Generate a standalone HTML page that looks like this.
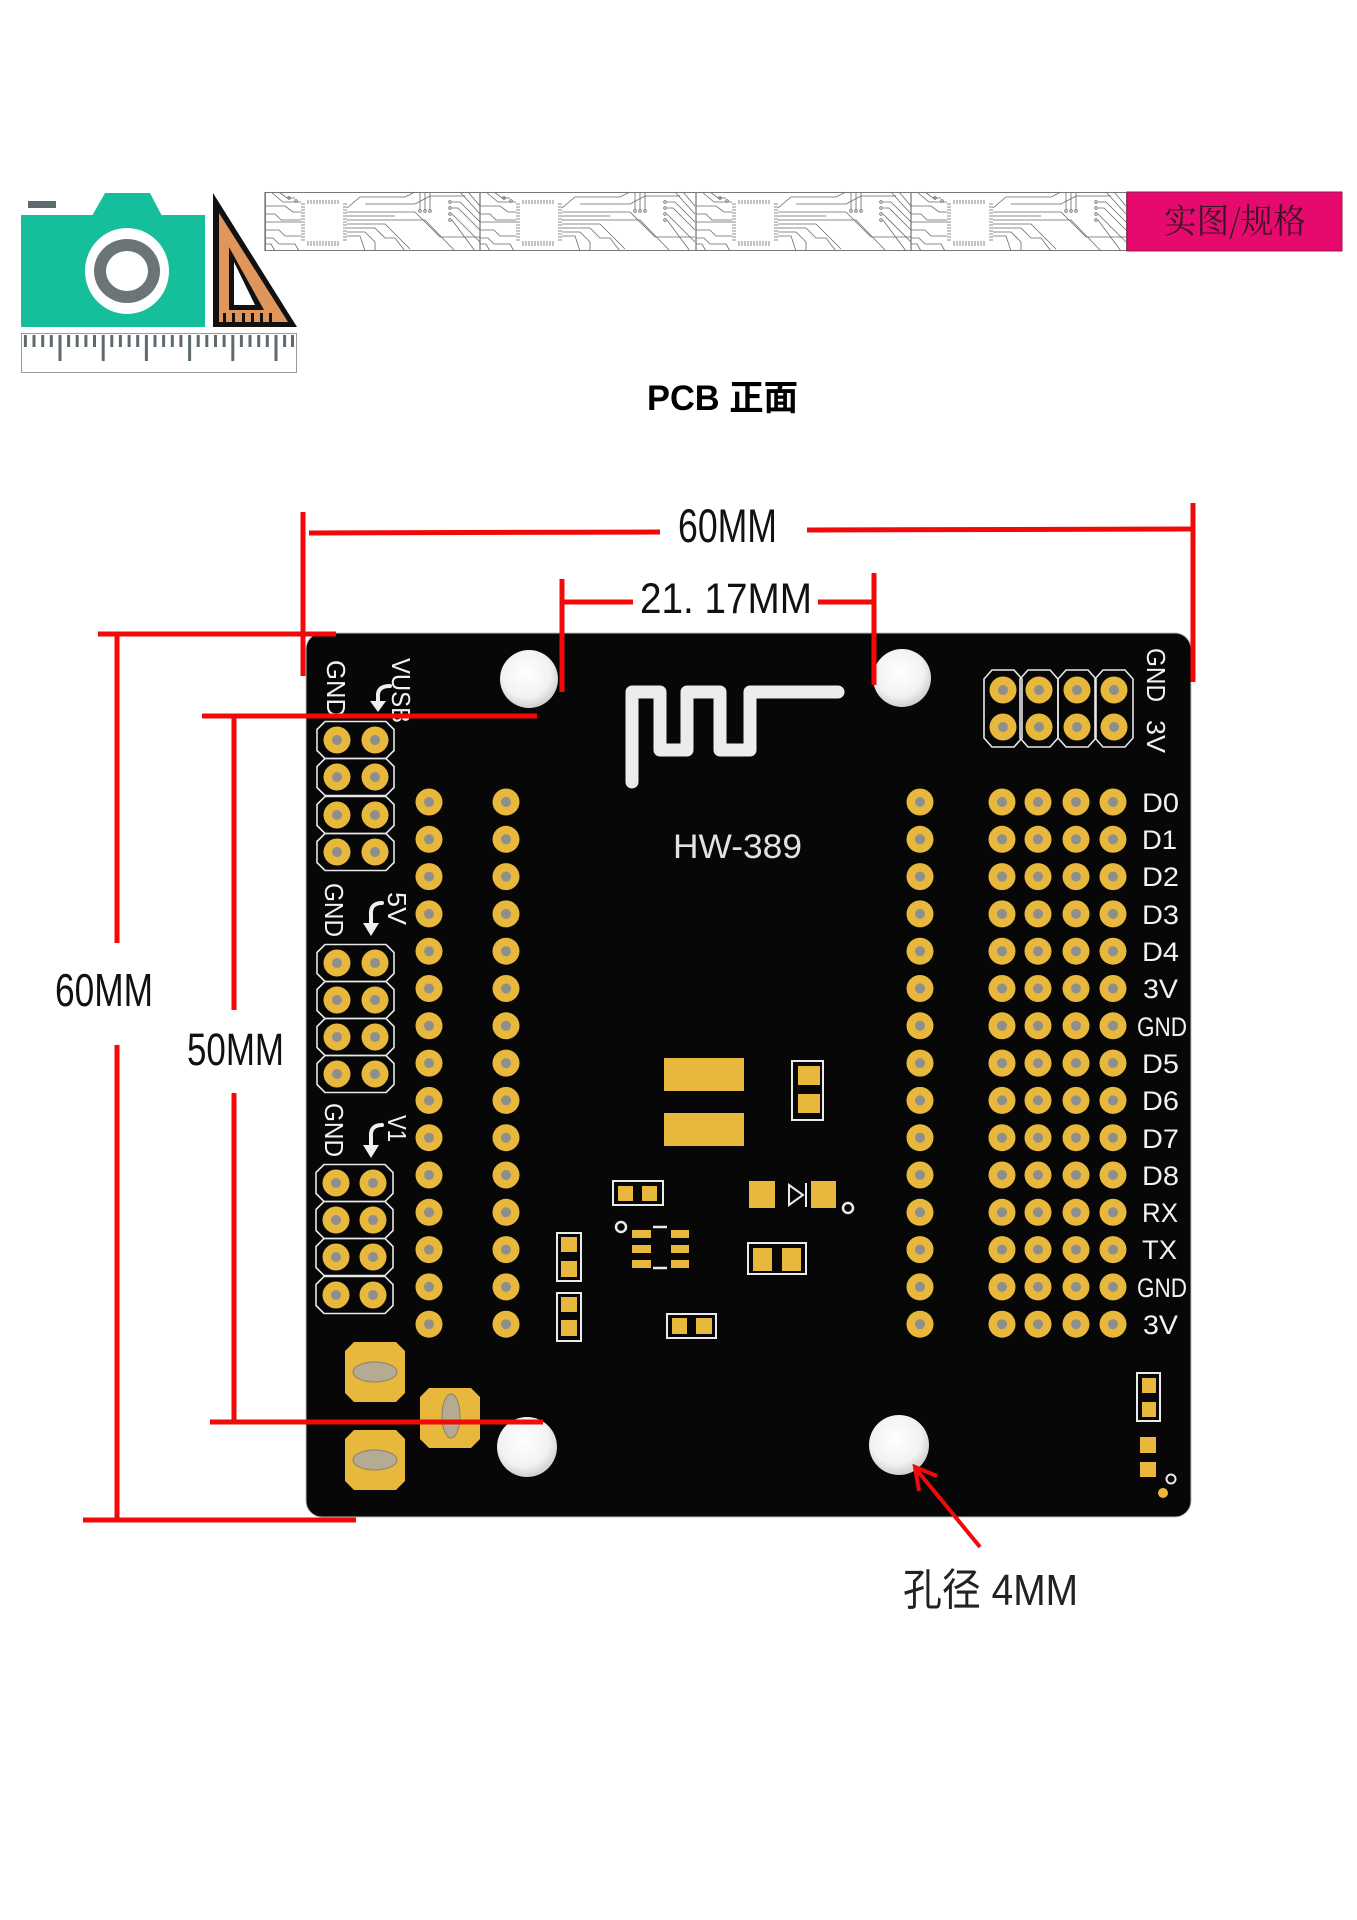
<!DOCTYPE html>
<html>
<head>
<meta charset="utf-8">
<style>
html,body{margin:0;padding:0;background:#fff;}
svg{display:block;}
</style>
</head>
<body>
<svg xmlns="http://www.w3.org/2000/svg" xmlns:xlink="http://www.w3.org/1999/xlink" width="1357" height="1920" viewBox="0 0 1357 1920">
<defs>
  <g id="pad">
    <circle r="13.5" fill="#e8b83c"/>
    <circle r="5" fill="#8e8e8e"/>
  </g>
  <radialGradient id="hole" cx="45%" cy="40%" r="60%">
    <stop offset="0" stop-color="#ffffff"/>
    <stop offset="0.7" stop-color="#f2f2f2"/>
    <stop offset="1" stop-color="#cfcfcf"/>
  </radialGradient>
  <g id="cp" fill="none" stroke="#6a6a6a" stroke-width="0.8">
    <line x1="0" y1="0" x2="0" y2="59" stroke="#555" stroke-width="1"/>
    <!-- chip pins -->
    <path d="M36,12H40M36,15H40M36,18H40M36,21H40M36,24H40M36,27H40M36,30H40M36,33H40M36,36H40M36,39H40M36,42H40M36,45H40M36,48H40"/>
    <path d="M78,12H82M78,15H82M78,18H82M78,21H82M78,24H82M78,27H82M78,30H82M78,33H82M78,36H82M78,39H82M78,42H82M78,45H82M78,48H82"/>
    <path d="M43,8V12M46,8V12M49,8V12M52,8V12M55,8V12M58,8V12M61,8V12M64,8V12M67,8V12M70,8V12M73,8V12"/>
    <path d="M43,49V54M46,49V54M49,49V54M52,49V54M55,49V54M58,49V54M61,49V54M64,49V54M67,49V54M70,49V54M73,49V54"/>
    <!-- left traces -->
    <path d="M0,14H20L28,20H36M0,22H10L16,28H36M0,30H36M0,38H14L20,44H36M0,46H8L14,52H30L34,59M6,0L18,10H36M14,0L22,6H30M0,52H6L10,59"/>
    <!-- right traces -->
    <path d="M82,20H150L175,45H215M82,24H130M82,28H160L190,59M82,32H120L145,57M82,36H110L120,46H130L140,59M82,40H100L110,50V59M82,44H95L100,59M82,16L95,5H140L150,0M100,12H150L165,4H200"/>
    <path d="M155,0V18M160,0V18M165,0V18"/>
    <circle cx="155" cy="19" r="1.3"/><circle cx="160" cy="19" r="1.3"/><circle cx="165" cy="19" r="1.3"/>
    <circle cx="185" cy="10" r="1.3"/><circle cx="185" cy="16" r="1.3"/><circle cx="185" cy="22" r="1.3"/><circle cx="185" cy="28" r="1.3"/>
    <path d="M187,10H195L215,30M187,16H193L215,38M187,22L215,50M187,28L210,59M195,0L215,22M203,0L215,14"/>
    <circle cx="24" cy="6" r="1.3"/><circle cx="31" cy="9" r="1.3"/>
  </g>
</defs>

<!-- ============ HEADER ICON ============ -->
<rect x="28" y="201" width="28" height="7" fill="#5d6a6d"/>
<polygon points="92,216 105,193 150,193 162,216" fill="#16bf9b"/>
<rect x="21" y="215" width="184" height="112" fill="#16bf9b"/>
<ellipse cx="127" cy="271" rx="42" ry="43" fill="#fff"/>
<ellipse cx="127" cy="271" rx="33" ry="32" fill="#6b7577"/>
<ellipse cx="127" cy="271" rx="21" ry="20" fill="#fff"/>
<!-- set square -->
<polygon points="213,193 213,327 297,327" fill="#111"/>
<polygon points="219,213 219,322 288,322" fill="#e0955a"/>
<polygon points="229,247 229,310 264,310" fill="#111"/>
<polygon points="234,262 234,305 255,305" fill="#fff"/>
<g fill="#111">
  <rect x="223" y="313" width="3" height="9"/><rect x="232" y="313" width="3" height="9"/>
  <rect x="242" y="313" width="3" height="9"/><rect x="251" y="313" width="3" height="9"/>
  <rect x="260" y="313" width="3" height="9"/><rect x="269" y="313" width="3" height="9"/>
</g>
<!-- ruler -->
<rect x="21.5" y="333.5" width="275" height="39" fill="#fff" stroke="#9a9a9a" stroke-width="1"/>
<g stroke="#5d6a6d" stroke-width="3">
  <line x1="25.4" y1="335" x2="25.4" y2="347"/><line x1="34" y1="335" x2="34" y2="347"/><line x1="42.7" y1="335" x2="42.7" y2="347"/><line x1="51.3" y1="335" x2="51.3" y2="347"/>
  <line x1="60" y1="335" x2="60" y2="361"/>
  <line x1="68.6" y1="335" x2="68.6" y2="347"/><line x1="77.2" y1="335" x2="77.2" y2="347"/><line x1="85.9" y1="335" x2="85.9" y2="347"/><line x1="94.5" y1="335" x2="94.5" y2="347"/>
  <line x1="103.2" y1="335" x2="103.2" y2="361"/>
  <line x1="111.8" y1="335" x2="111.8" y2="347"/><line x1="120.4" y1="335" x2="120.4" y2="347"/><line x1="129.1" y1="335" x2="129.1" y2="347"/><line x1="137.7" y1="335" x2="137.7" y2="347"/>
  <line x1="146.4" y1="335" x2="146.4" y2="361"/>
  <line x1="155" y1="335" x2="155" y2="347"/><line x1="163.6" y1="335" x2="163.6" y2="347"/><line x1="172.3" y1="335" x2="172.3" y2="347"/><line x1="180.9" y1="335" x2="180.9" y2="347"/>
  <line x1="189.6" y1="335" x2="189.6" y2="361"/>
  <line x1="198.2" y1="335" x2="198.2" y2="347"/><line x1="206.8" y1="335" x2="206.8" y2="347"/><line x1="215.5" y1="335" x2="215.5" y2="347"/><line x1="224.1" y1="335" x2="224.1" y2="347"/>
  <line x1="232.8" y1="335" x2="232.8" y2="361"/>
  <line x1="241.4" y1="335" x2="241.4" y2="347"/><line x1="250" y1="335" x2="250" y2="347"/><line x1="258.7" y1="335" x2="258.7" y2="347"/><line x1="267.3" y1="335" x2="267.3" y2="347"/>
  <line x1="276" y1="335" x2="276" y2="361"/>
  <line x1="284.6" y1="335" x2="284.6" y2="347"/><line x1="292.5" y1="335" x2="292.5" y2="347"/>
</g>

<!-- ============ BANNER ============ -->
<rect x="265" y="192" width="1077" height="59" fill="#fff"/>
<use xlink:href="#cp" href="#cp" transform="translate(265,192)"/>
<use xlink:href="#cp" href="#cp" transform="translate(480,192)"/>
<use xlink:href="#cp" href="#cp" transform="translate(696,192)"/>
<use xlink:href="#cp" href="#cp" transform="translate(911,192)"/>
<rect x="265.5" y="192.5" width="861" height="58" fill="none" stroke="#777" stroke-width="1"/>
<rect x="1127" y="192" width="215" height="59" fill="#e60a6e" stroke="#9a1a4a" stroke-width="1"/>
<text x="1164" y="233" font-family="'Noto Serif CJK SC','Liberation Serif',serif" font-size="34" fill="#3a1424" textLength="142" lengthAdjust="spacingAndGlyphs">实图/规格</text>

<!-- ============ TITLE ============ -->
<text x="647" y="410" font-family="'Liberation Sans','Noto Sans CJK SC',sans-serif" font-weight="bold" font-size="35" fill="#000" textLength="151" lengthAdjust="spacingAndGlyphs">PCB 正面</text>

<!-- ============ PCB ============ -->
<rect x="306" y="633" width="885" height="884" rx="16" ry="16" fill="#070707" stroke="#bdbdbd" stroke-width="1"/>

<!-- holes -->
<circle cx="529" cy="679" r="29" fill="url(#hole)"/>
<circle cx="902" cy="678" r="29" fill="url(#hole)"/>
<circle cx="527" cy="1447" r="30" fill="url(#hole)"/>
<circle cx="899" cy="1445" r="30" fill="url(#hole)"/>

<!-- antenna -->
<path d="M632,782 V692 H660 V750 H687 V692 H720 V750 H750 V692 H838" fill="none" stroke="#ececec" stroke-width="13" stroke-linecap="round" stroke-linejoin="round"/>
<text x="673" y="858" font-family="'Liberation Sans',sans-serif" font-size="34" fill="#e2e2e2" textLength="129" lengthAdjust="spacingAndGlyphs">HW-389</text>

<!-- left header outlines -->
<g fill="none" stroke="#e8e8e8" stroke-width="1.6">
  <path d="M325,721.5H386L394,729.5V750.5L386,758.5H325L317,750.5V729.5Z"/>
  <path d="M325,758.5H386L394,766.5V787.5L386,795.5H325L317,787.5V766.5Z"/>
  <path d="M325,796.5H386L394,804.5V825.5L386,833.5H325L317,825.5V804.5Z"/>
  <path d="M325,833.5H386L394,841.5V862.5L386,870.5H325L317,862.5V841.5Z"/>

  <path d="M325,944.5H386L394,952.5V973.5L386,981.5H325L317,973.5V952.5Z"/>
  <path d="M325,981.5H386L394,989.5V1010.5L386,1018.5H325L317,1010.5V989.5Z"/>
  <path d="M325,1018.5H386L394,1026.5V1047.5L386,1055.5H325L317,1047.5V1026.5Z"/>
  <path d="M325,1055.5H386L394,1063.5V1084.5L386,1092.5H325L317,1084.5V1063.5Z"/>

  <path d="M324,1164.5H385L393,1172.5V1193.5L385,1201.5H324L316,1193.5V1172.5Z"/>
  <path d="M324,1201.5H385L393,1209.5V1230.5L385,1238.5H324L316,1230.5V1209.5Z"/>
  <path d="M324,1238.5H385L393,1246.5V1267.5L385,1275.5H324L316,1267.5V1246.5Z"/>
  <path d="M324,1276.5H385L393,1284.5V1305.5L385,1313.5H324L316,1305.5V1284.5Z"/>

  <!-- top right header -->
  <path d="M992,670H1014L1022,679V738L1014,747H992L984,738V679Z"/>
  <path d="M1028,670H1050L1058,679V738L1050,747H1028L1020,738V679Z"/>
  <path d="M1066,670H1088L1096,679V738L1088,747H1066L1058,738V679Z"/>
  <path d="M1103,670H1125L1133,679V738L1125,747H1103L1095,738V679Z"/>
</g>

<!-- left header pads -->
<g>
  <use href="#pad" x="337" y="740"/><use href="#pad" x="375" y="740"/>
  <use href="#pad" x="337" y="777"/><use href="#pad" x="375" y="777"/>
  <use href="#pad" x="337" y="815"/><use href="#pad" x="375" y="815"/>
  <use href="#pad" x="337" y="852"/><use href="#pad" x="375" y="852"/>
  <use href="#pad" x="337" y="963"/><use href="#pad" x="375" y="963"/>
  <use href="#pad" x="337" y="1000"/><use href="#pad" x="375" y="1000"/>
  <use href="#pad" x="337" y="1037"/><use href="#pad" x="375" y="1037"/>
  <use href="#pad" x="337" y="1074"/><use href="#pad" x="375" y="1074"/>
  <use href="#pad" x="336" y="1183"/><use href="#pad" x="373" y="1183"/>
  <use href="#pad" x="336" y="1220"/><use href="#pad" x="373" y="1220"/>
  <use href="#pad" x="336" y="1257"/><use href="#pad" x="373" y="1257"/>
  <use href="#pad" x="336" y="1295"/><use href="#pad" x="373" y="1295"/>
</g>
<!-- top right pads -->
<g>
  <use href="#pad" x="1003" y="690"/><use href="#pad" x="1039" y="690"/><use href="#pad" x="1077" y="690"/><use href="#pad" x="1114" y="690"/>
  <use href="#pad" x="1003" y="727"/><use href="#pad" x="1039" y="727"/><use href="#pad" x="1077" y="727"/><use href="#pad" x="1114" y="727"/>
</g>

<!-- pin columns: 15 rows -->
<g>
  <use href="#pad" x="429" y="802"/><use href="#pad" x="506" y="802"/><use href="#pad" x="920" y="802"/><use href="#pad" x="1002" y="802"/><use href="#pad" x="1038" y="802"/><use href="#pad" x="1076" y="802"/><use href="#pad" x="1113" y="802"/>
  <use href="#pad" x="429" y="839.3"/><use href="#pad" x="506" y="839.3"/><use href="#pad" x="920" y="839.3"/><use href="#pad" x="1002" y="839.3"/><use href="#pad" x="1038" y="839.3"/><use href="#pad" x="1076" y="839.3"/><use href="#pad" x="1113" y="839.3"/>
  <use href="#pad" x="429" y="876.6"/><use href="#pad" x="506" y="876.6"/><use href="#pad" x="920" y="876.6"/><use href="#pad" x="1002" y="876.6"/><use href="#pad" x="1038" y="876.6"/><use href="#pad" x="1076" y="876.6"/><use href="#pad" x="1113" y="876.6"/>
  <use href="#pad" x="429" y="913.9"/><use href="#pad" x="506" y="913.9"/><use href="#pad" x="920" y="913.9"/><use href="#pad" x="1002" y="913.9"/><use href="#pad" x="1038" y="913.9"/><use href="#pad" x="1076" y="913.9"/><use href="#pad" x="1113" y="913.9"/>
  <use href="#pad" x="429" y="951.2"/><use href="#pad" x="506" y="951.2"/><use href="#pad" x="920" y="951.2"/><use href="#pad" x="1002" y="951.2"/><use href="#pad" x="1038" y="951.2"/><use href="#pad" x="1076" y="951.2"/><use href="#pad" x="1113" y="951.2"/>
  <use href="#pad" x="429" y="988.5"/><use href="#pad" x="506" y="988.5"/><use href="#pad" x="920" y="988.5"/><use href="#pad" x="1002" y="988.5"/><use href="#pad" x="1038" y="988.5"/><use href="#pad" x="1076" y="988.5"/><use href="#pad" x="1113" y="988.5"/>
  <use href="#pad" x="429" y="1025.8"/><use href="#pad" x="506" y="1025.8"/><use href="#pad" x="920" y="1025.8"/><use href="#pad" x="1002" y="1025.8"/><use href="#pad" x="1038" y="1025.8"/><use href="#pad" x="1076" y="1025.8"/><use href="#pad" x="1113" y="1025.8"/>
  <use href="#pad" x="429" y="1063.1"/><use href="#pad" x="506" y="1063.1"/><use href="#pad" x="920" y="1063.1"/><use href="#pad" x="1002" y="1063.1"/><use href="#pad" x="1038" y="1063.1"/><use href="#pad" x="1076" y="1063.1"/><use href="#pad" x="1113" y="1063.1"/>
  <use href="#pad" x="429" y="1100.4"/><use href="#pad" x="506" y="1100.4"/><use href="#pad" x="920" y="1100.4"/><use href="#pad" x="1002" y="1100.4"/><use href="#pad" x="1038" y="1100.4"/><use href="#pad" x="1076" y="1100.4"/><use href="#pad" x="1113" y="1100.4"/>
  <use href="#pad" x="429" y="1137.7"/><use href="#pad" x="506" y="1137.7"/><use href="#pad" x="920" y="1137.7"/><use href="#pad" x="1002" y="1137.7"/><use href="#pad" x="1038" y="1137.7"/><use href="#pad" x="1076" y="1137.7"/><use href="#pad" x="1113" y="1137.7"/>
  <use href="#pad" x="429" y="1175"/><use href="#pad" x="506" y="1175"/><use href="#pad" x="920" y="1175"/><use href="#pad" x="1002" y="1175"/><use href="#pad" x="1038" y="1175"/><use href="#pad" x="1076" y="1175"/><use href="#pad" x="1113" y="1175"/>
  <use href="#pad" x="429" y="1212.3"/><use href="#pad" x="506" y="1212.3"/><use href="#pad" x="920" y="1212.3"/><use href="#pad" x="1002" y="1212.3"/><use href="#pad" x="1038" y="1212.3"/><use href="#pad" x="1076" y="1212.3"/><use href="#pad" x="1113" y="1212.3"/>
  <use href="#pad" x="429" y="1249.6"/><use href="#pad" x="506" y="1249.6"/><use href="#pad" x="920" y="1249.6"/><use href="#pad" x="1002" y="1249.6"/><use href="#pad" x="1038" y="1249.6"/><use href="#pad" x="1076" y="1249.6"/><use href="#pad" x="1113" y="1249.6"/>
  <use href="#pad" x="429" y="1286.9"/><use href="#pad" x="506" y="1286.9"/><use href="#pad" x="920" y="1286.9"/><use href="#pad" x="1002" y="1286.9"/><use href="#pad" x="1038" y="1286.9"/><use href="#pad" x="1076" y="1286.9"/><use href="#pad" x="1113" y="1286.9"/>
  <use href="#pad" x="429" y="1324.2"/><use href="#pad" x="506" y="1324.2"/><use href="#pad" x="920" y="1324.2"/><use href="#pad" x="1002" y="1324.2"/><use href="#pad" x="1038" y="1324.2"/><use href="#pad" x="1076" y="1324.2"/><use href="#pad" x="1113" y="1324.2"/>
</g>

<!-- right labels -->
<g font-family="'Liberation Sans',sans-serif" font-size="27" fill="#f2f2f2">
  <text x="1142" y="812" textLength="37" lengthAdjust="spacingAndGlyphs">D0</text>
  <text x="1142" y="849" textLength="35" lengthAdjust="spacingAndGlyphs">D1</text>
  <text x="1142" y="886" textLength="37" lengthAdjust="spacingAndGlyphs">D2</text>
  <text x="1142" y="924" textLength="37" lengthAdjust="spacingAndGlyphs">D3</text>
  <text x="1142" y="961" textLength="37" lengthAdjust="spacingAndGlyphs">D4</text>
  <text x="1143" y="998" textLength="35" lengthAdjust="spacingAndGlyphs">3V</text>
  <text x="1137" y="1036" textLength="50" lengthAdjust="spacingAndGlyphs">GND</text>
  <text x="1142" y="1073" textLength="37" lengthAdjust="spacingAndGlyphs">D5</text>
  <text x="1142" y="1110" textLength="37" lengthAdjust="spacingAndGlyphs">D6</text>
  <text x="1142" y="1148" textLength="37" lengthAdjust="spacingAndGlyphs">D7</text>
  <text x="1142" y="1185" textLength="37" lengthAdjust="spacingAndGlyphs">D8</text>
  <text x="1142" y="1222" textLength="36" lengthAdjust="spacingAndGlyphs">RX</text>
  <text x="1142" y="1259" textLength="35" lengthAdjust="spacingAndGlyphs">TX</text>
  <text x="1137" y="1297" textLength="50" lengthAdjust="spacingAndGlyphs">GND</text>
  <text x="1143" y="1334" textLength="35" lengthAdjust="spacingAndGlyphs">3V</text>
</g>

<!-- rotated labels -->
<g font-family="'Liberation Sans',sans-serif" font-size="26" fill="#f2f2f2">
  <text transform="translate(1147,648) rotate(90)" textLength="54" lengthAdjust="spacingAndGlyphs">GND</text>
  <text transform="translate(1147,720) rotate(90)" textLength="33" lengthAdjust="spacingAndGlyphs">3V</text>
  <text transform="translate(327,660) rotate(90)" textLength="57" lengthAdjust="spacingAndGlyphs">GND</text>
  <text transform="translate(392,658) rotate(90)" textLength="65" lengthAdjust="spacingAndGlyphs">VUSB</text>
  <text transform="translate(325,883) rotate(90)" textLength="54" lengthAdjust="spacingAndGlyphs">GND</text>
  <text transform="translate(388,892) rotate(90)" textLength="33" lengthAdjust="spacingAndGlyphs">5V</text>
  <text transform="translate(325,1103) rotate(90)" textLength="54" lengthAdjust="spacingAndGlyphs">GND</text>
  <text transform="translate(388,1115) rotate(90)" textLength="27" lengthAdjust="spacingAndGlyphs">V1</text>
</g>
<!-- curved arrow icons -->
<g fill="none" stroke="#f0f0f0" stroke-width="4" stroke-linecap="round">
  <path d="M390,686 Q377,686 378,697 V702"/>
  <path d="M382,903 Q370,903 371,915 V924"/>
  <path d="M382,1125 Q370,1125 371,1137 V1146"/>
</g>
<g fill="#f0f0f0">
  <polygon points="370,701 386,701 378,712"/>
  <polygon points="363,923 379,923 371,936"/>
  <polygon points="363,1145 379,1145 371,1158"/>
</g>

<!-- SMD components -->
<g fill="#e8b83c">
  <rect x="664" y="1058" width="80" height="33"/>
  <rect x="664" y="1113" width="80" height="33"/>
  <rect x="798" y="1066" width="22" height="19"/>
  <rect x="798" y="1094" width="22" height="19"/>
  <rect x="618" y="1186" width="15" height="15"/>
  <rect x="642" y="1186" width="15" height="15"/>
  <rect x="749" y="1181" width="26" height="27"/>
  <rect x="811" y="1181" width="25" height="27"/>
  <rect x="632" y="1230" width="19" height="8"/>
  <rect x="632" y="1245" width="19" height="8"/>
  <rect x="632" y="1260" width="19" height="8"/>
  <rect x="671" y="1230" width="18" height="8"/>
  <rect x="671" y="1245" width="18" height="8"/>
  <rect x="671" y="1260" width="18" height="8"/>
  <rect x="753" y="1248" width="19" height="23"/>
  <rect x="782" y="1248" width="19" height="23"/>
  <rect x="561" y="1237" width="16" height="15"/>
  <rect x="561" y="1261" width="16" height="16"/>
  <rect x="561" y="1297" width="16" height="15"/>
  <rect x="561" y="1320" width="16" height="16"/>
  <rect x="672" y="1318" width="15" height="16"/>
  <rect x="696" y="1318" width="16" height="16"/>
  <rect x="1142" y="1378" width="14" height="15"/>
  <rect x="1142" y="1402" width="14" height="15"/>
  <rect x="1140" y="1437" width="16" height="16"/>
  <rect x="1140" y="1462" width="16" height="15"/>
  <circle cx="1163" cy="1493" r="5"/>
</g>
<g fill="none" stroke="#eaeaea" stroke-width="2">
  <rect x="792" y="1061" width="31" height="59"/>
  <rect x="613" y="1181" width="50" height="24"/>
  <rect x="748" y="1243" width="58" height="31"/>
  <rect x="557" y="1233" width="24" height="48"/>
  <rect x="557" y="1293" width="24" height="48"/>
  <rect x="667" y="1314" width="49" height="24"/>
  <rect x="1137" y="1373" width="23" height="48"/>
  <circle cx="621" cy="1227" r="5" stroke-width="2.5"/>
  <circle cx="848" cy="1208" r="5" stroke-width="2.5"/>
  <circle cx="1171" cy="1479" r="4.5" stroke-width="2"/>
  <polygon points="789,1185 789,1205 803,1195"/>
  <line x1="806" y1="1183" x2="806" y2="1207"/>
  <line x1="653" y1="1227" x2="667" y2="1227" stroke-width="2.5"/>
  <line x1="653" y1="1268" x2="667" y2="1268" stroke-width="2.5"/>
</g>

<!-- octagonal mount pads -->
<g fill="#e8b83c">
  <polygon points="354,1342 396,1342 405,1351 405,1393 396,1402 354,1402 345,1393 345,1351"/>
  <polygon points="429,1388 471,1388 480,1397 480,1439 471,1448 429,1448 420,1439 420,1397"/>
  <polygon points="354,1430 396,1430 405,1439 405,1481 396,1490 354,1490 345,1481 345,1439"/>
</g>
<g fill="#b5aa92" stroke="#8a8070" stroke-width="1">
  <ellipse cx="375" cy="1372" rx="22" ry="10"/>
  <ellipse cx="451" cy="1416" rx="9" ry="22"/>
  <ellipse cx="375" cy="1460" rx="22" ry="10"/>
</g>

<!-- ============ DIMENSIONS ============ -->
<g stroke="#f00a0a" stroke-width="5" fill="none">
  <!-- 60MM top -->
  <line x1="309" y1="533" x2="660" y2="532"/>
  <line x1="807" y1="530" x2="1193" y2="529"/>
  <line x1="303" y1="512" x2="303" y2="676"/>
  <line x1="1193" y1="503" x2="1193" y2="682"/>
  <!-- 21.17MM -->
  <line x1="562" y1="579" x2="562" y2="692"/>
  <line x1="562" y1="602" x2="633" y2="602"/>
  <line x1="818" y1="602" x2="874" y2="602"/>
  <line x1="874" y1="573" x2="874" y2="685"/>
  <!-- 60MM left -->
  <line x1="98" y1="634" x2="336" y2="634"/>
  <line x1="117" y1="633" x2="117" y2="943"/>
  <line x1="117" y1="1045" x2="117" y2="1520"/>
  <line x1="83" y1="1520" x2="356" y2="1520"/>
  <!-- 50MM -->
  <line x1="202" y1="716" x2="537" y2="716"/>
  <line x1="234" y1="716" x2="234" y2="1010"/>
  <line x1="234" y1="1093" x2="234" y2="1422"/>
  <line x1="210" y1="1422" x2="543" y2="1422"/>
  <!-- hole arrow -->
  <line x1="980" y1="1547" x2="916" y2="1469" stroke-width="4"/>
  <polyline points="919,1491 915,1467 937,1476" stroke-width="4"/>
</g>

<g font-family="'Liberation Sans','Noto Sans CJK SC',sans-serif" fill="#111">
  <text x="678" y="542" font-size="47" textLength="99" lengthAdjust="spacingAndGlyphs">60MM</text>
  <text x="640" y="613" font-size="43" textLength="172" lengthAdjust="spacingAndGlyphs">21. 17MM</text>
  <text x="55" y="1006" font-size="46" textLength="98" lengthAdjust="spacingAndGlyphs">60MM</text>
  <text x="187" y="1065" font-size="45" textLength="97" lengthAdjust="spacingAndGlyphs">50MM</text>
  <text x="903" y="1605" font-size="44" fill="#222" textLength="175" lengthAdjust="spacingAndGlyphs">孔径 4MM</text>
</g>
</svg>
</body>
</html>
